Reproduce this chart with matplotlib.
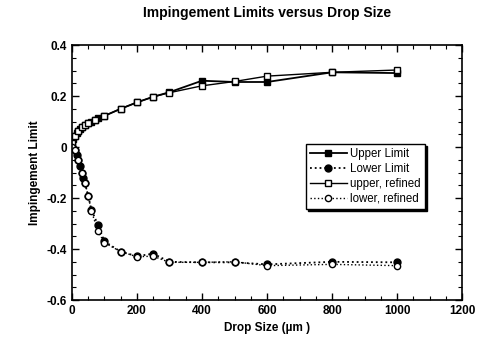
import matplotlib
matplotlib.use("Agg")
import matplotlib.pyplot as plt
from matplotlib.ticker import MultipleLocator

plt.rcParams['font.family'] = ['Liberation Sans', 'DejaVu Sans']
plt.rcParams['font.weight'] = 'bold'

# data
x_upper = [0, 5, 10, 15, 20, 25, 30, 40, 50, 60, 70, 80, 100, 150, 200, 250, 300, 400, 500, 600, 800, 1000]
y_upper = [0.01, 0.03, 0.045, 0.055, 0.062, 0.07, 0.078, 0.087, 0.095, 0.1, 0.107, 0.112, 0.122,
           0.15, 0.175, 0.197, 0.215, 0.26, 0.255, 0.255, 0.293, 0.29]

x_lower = [0, 10, 15, 20, 25, 30, 35, 40, 50, 60, 80, 100, 150, 200, 250, 300, 400, 500, 600, 800, 1000]
y_lower = [0.0, -0.01, -0.03, -0.05, -0.075, -0.1, -0.12, -0.14, -0.19, -0.245, -0.305, -0.37,
           -0.41, -0.428, -0.418, -0.45, -0.452, -0.452, -0.46, -0.45, -0.452]

x_upper_ref = [0, 10, 20, 30, 40, 50, 70, 100, 150, 200, 250, 300, 400, 500, 600, 800, 1000]
y_upper_ref = [0.015, 0.045, 0.062, 0.078, 0.087, 0.095, 0.107, 0.122, 0.15, 0.175, 0.197, 0.213,
               0.24, 0.257, 0.278, 0.293, 0.302]

x_lower_ref = [0, 10, 20, 30, 40, 50, 60, 80, 100, 150, 200, 250, 300, 400, 500, 600, 800, 1000]
y_lower_ref = [0.0, -0.01, -0.05, -0.1, -0.14, -0.19, -0.25, -0.33, -0.375, -0.41, -0.43, -0.428,
               -0.452, -0.452, -0.45, -0.465, -0.46, -0.465]

fig = plt.figure(figsize=(4.79, 3.41), dpi=100)
ax = fig.add_axes([0.150, 0.120, 0.815, 0.748])

ax.plot(x_upper, y_upper, '-', color='black', lw=1.3, marker='s', ms=5, label='Upper Limit')
ax.plot(x_lower, y_lower, ':', color='black', lw=1.3, marker='o', ms=5, label='Lower Limit')
ax.plot(x_upper_ref, y_upper_ref, '-', color='black', lw=1.0, marker='s', ms=5,
        mfc='white', label='upper, refined')
ax.plot(x_lower_ref, y_lower_ref, ':', color='black', lw=1.0, marker='o', ms=4.5,
        mfc='white', label='lower, refined')

ax.set_xlim(0, 1200)
ax.set_ylim(-0.6, 0.4)
ax.xaxis.set_major_locator(MultipleLocator(200))
ax.xaxis.set_minor_locator(MultipleLocator(50))
ax.yaxis.set_major_locator(MultipleLocator(0.2))
ax.yaxis.set_minor_locator(MultipleLocator(0.05))
ax.set_yticks([-0.6, -0.4, -0.2, 0, 0.2, 0.4])
ax.set_yticklabels(['-0.6', '-0.4', '-0.2', '0', '0.2', '0.4'])
ax.tick_params(which='both', direction='in', top=True, right=True, labelsize=8.5)
ax.tick_params(which='major', length=5, width=1)
ax.tick_params(which='minor', length=3, width=0.8)
for s in ax.spines.values():
    s.set_linewidth(1.2)

ax.set_title('Impingement Limits versus Drop Size', fontsize=10, fontweight='bold', pad=20)
ax.set_xlabel('Drop Size (\u00b5m )', fontsize=8.5, fontweight='bold')
ax.set_ylabel('Impingement Limit', fontsize=8.5, fontweight='bold')

leg = ax.legend(loc='upper left', bbox_to_anchor=(0.585, 0.635), fontsize=8.3, frameon=True,
                fancybox=False, edgecolor='black', framealpha=1, handlelength=3.2,
                borderpad=0.35, labelspacing=0.25, handletextpad=0.3,
                shadow={'color': 'black', 'alpha': 1, 'ox': 1.5, 'oy': -1.5})
leg.get_frame().set_linewidth(1.0)
for t in leg.get_texts():
    t.set_fontweight('normal')

fig.savefig('out.png', dpi=100)
